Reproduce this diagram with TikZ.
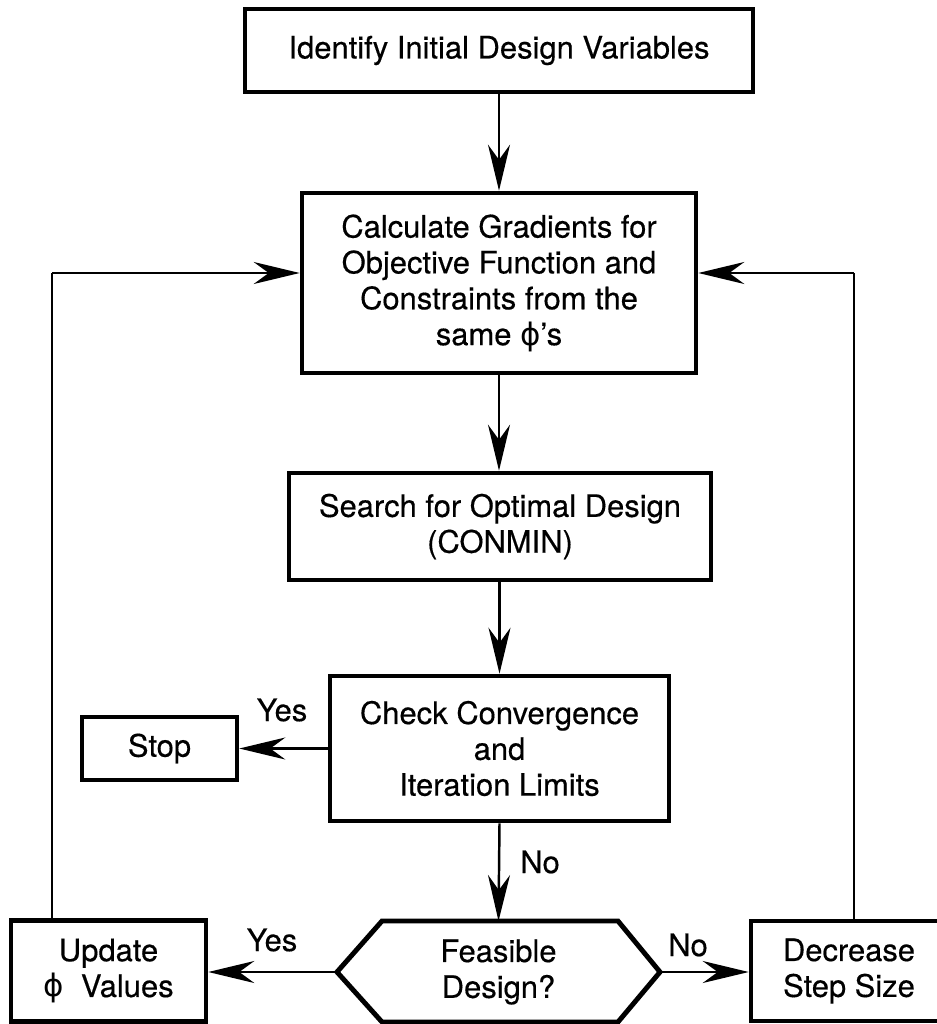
\documentclass[tikz,border=0pt]{standalone}
\usepackage{fontspec}
\setmainfont{TeX Gyre Heros}[FakeBold=0.4]
\newfontfamily\dejavu{DejaVu Sans}
\usetikzlibrary{arrows.meta}
\newcommand{\myphi}{{\dejavu ϕ}}
\begin{document}
\begin{tikzpicture}[x=0.1mm,y=-0.1mm,
  font=\fontsize{8.8}{10.2}\selectfont,
  box/.style={draw, line width=1.3pt, align=center, inner sep=0pt},
  conn/.style={line width=0.7pt, -{Stealth[length=4.6mm,width=2.2mm,inset=1.5mm]}},
  plain/.style={line width=0.7pt},
  lbl/.style={inner sep=0pt}]
\useasboundingbox (0,0) rectangle (936,1024);
\fill[white] (0,0) rectangle (936,1024);

\node[box, minimum width=50.8mm, minimum height=8.3mm] (top) at (499,50.5) {Identify Initial Design Variables};
\node[box, minimum width=39.4mm, minimum height=18mm] (calc) at (499,283) {Calculate Gradients for\\Objective Function and\\Constraints from the\\same \myphi's};
\node[box, minimum width=42.2mm, minimum height=10.7mm] (search) at (500,526.5) {Search for Optimal Design\\(CONMIN)};
\node[box, minimum width=33.9mm, minimum height=14.5mm] (check) at (499.5,748.5) {Check Convergence\\and\\Iteration Limits};
\node[box, minimum width=15.5mm, minimum height=6.3mm] (stop) at (159.5,748.5) {Stop};
\node[box, minimum width=19.5mm, minimum height=10.1mm] (update) at (108.5,971) {Update\\\myphi\ \ Values};
\node[box, minimum width=19.6mm, minimum height=10mm] (decr) at (849,971) {Decrease\\Step Size};

% hexagon
\coordinate (hexL) at (337,972);
\coordinate (hexR) at (660,972);
\coordinate (hexT) at (498.5,921);
\draw[line width=1.4pt, line join=miter] (hexL) -- (382,921) -- (618,921) -- (hexR) -- (618,1022) -- (382,1022) -- cycle;
\node[align=center, inner sep=0pt] (hex) at (498.5,972) {Feasible\\Design?};

% loop coordinates
\coordinate (lt) at (52,273);
\coordinate (rt) at (854,273);

% connectors
\draw[conn] (top.south) -- (calc.north);
\draw[conn] (calc.south) -- (search.north -| calc.south);
\draw[conn] (search.south -| check.north) -- (check.north);
\draw[conn] (check.west) -- (stop.east);
\draw[conn] (check.south) -- (hexT);
\draw[conn] (hexL) -- (hexL -| update.east);
\draw[conn] (hexR) -- (hexR -| decr.west);
\draw[plain] (lt |- update.north) -- (lt);
\draw[conn] (lt) -- (lt -| calc.west);
\draw[plain] (rt |- decr.north) -- (rt);
\draw[conn] (rt) -- (rt -| calc.east);

% labels
\node[lbl] (l1) at (282,710) {Yes};
\node[lbl] (l2) at (540,862) {No};
\node[lbl] (l3) at (272,940) {Yes};
\node[lbl] (l4) at (688,945) {No};
\end{tikzpicture}
\end{document}
